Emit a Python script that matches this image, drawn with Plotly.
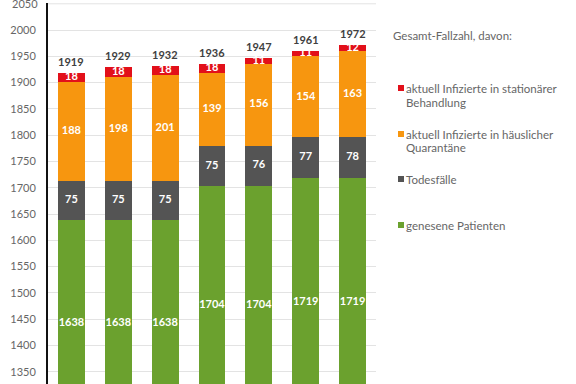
import plotly.graph_objects as go

categories = ["A", "B", "C", "D", "E", "F", "G"]
genesen = [1638, 1638, 1638, 1704, 1704, 1719, 1719]
tote = [75, 75, 75, 75, 76, 77, 78]
quarantaene = [188, 198, 201, 139, 156, 154, 163]
stationaer = [18, 18, 18, 18, 11, 11, 12]
gesamt = [1919, 1929, 1932, 1936, 1947, 1961, 1972]
y_ticks = [1350, 1400, 1450, 1500, 1550, 1600, 1650, 1700, 1750, 1800, 1850, 1900, 1950, 2000, 2050]

series_names = [
    "genesene Patienten",
    "Todesfälle",
    "aktuell Infizierte in häuslicher Quarantäne",
    "aktuell Infizierte in stationärer Behandlung",
]
colors = ["#6BA12E", "#545454", "#F7960F", "#E2101A"]

Y_MIN, Y_MAX = 1326.6, 2051.5
AXIS_ORIGIN = 1247  # original (cropped) axis start used for label centring

W, H = 576, 384
ML, MR, MT, MB = 48, 200, 3, 0
PW = W - ML - MR
PH = H - MT - MB

FONT = "Lato"
TICK_FONT = dict(family=FONT, size=11, color="#666666")
GRID = "#E3E3E3"

fig = go.Figure()
series = [genesen, tote, quarantaene, stationaer]
for vals, name, col in zip(series, series_names, colors):
    fig.add_trace(go.Bar(x=categories, y=vals, name=name, marker=dict(color=col, line=dict(width=0)),
                         showlegend=False))

# segment labels
lab_x, lab_y, lab_t = [], [], []
base = [0] * len(categories)
for k, vals in enumerate(series):
    for i, v in enumerate(vals):
        lo = base[i]
        hi = base[i] + v
        if k == 0:
            mid = (AXIS_ORIGIN + hi) / 2
        else:
            mid = (lo + hi) / 2
        lab_x.append(categories[i]); lab_y.append(mid); lab_t.append(str(v))
        base[i] = hi
fig.add_trace(go.Scatter(x=lab_x, y=lab_y, text=lab_t, mode="text", showlegend=False,
                         textfont=dict(family=FONT, size=11, color="white", weight="bold"),
                         textposition="middle center", hoverinfo="skip"))

annotations = []
shapes = []
# totals
for c, v in zip(categories, gesamt):
    annotations.append(dict(x=c, y=v, xref="x", yref="y", text=str(v), showarrow=False,
                            yanchor="bottom", yshift=3,
                            font=dict(family=FONT, size=11, color="#404040", weight="bold")))

# top tick (plotly drops the label right at the plot edge)
top_tick = y_ticks[-1]
annotations.append(dict(x=0, y=top_tick, xref="paper", yref="y", xanchor="right", yanchor="middle",
                        xshift=-8, text=str(top_tick), showarrow=False, font=TICK_FONT))
shapes.append(dict(type="line", xref="paper", yref="y", x0=0, x1=1, y0=top_tick, y1=top_tick,
                   line=dict(color=GRID, width=1), layer="below"))

def px(xp):
    return (xp - ML) / PW

def py(yp):
    return (H - MB - yp) / PH

annotations.append(dict(x=px(391), y=py(35), xref="paper", yref="paper", xanchor="left", yanchor="middle",
                        text="Gesamt-Fallzahl, davon:", showarrow=False,
                        font=dict(family=FONT, size=11.5, color="#666666")))
legend_items = [
    (3, ["aktuell Infizierte in stationärer", "Behandlung"], 88),
    (2, ["aktuell Infizierte in häuslicher", "Quarantäne"], 134),
    (1, ["Todesfälle"], 179),
    (0, ["genesene Patienten"], 225),
]
for idx, lines, ycen in legend_items:
    shapes.append(dict(type="rect", xref="paper", yref="paper",
                       x0=px(398), x1=px(404), y0=py(ycen + 3), y1=py(ycen - 3),
                       fillcolor=colors[idx], line=dict(width=0)))
    for j, ln in enumerate(lines):
        annotations.append(dict(x=px(404), y=py(ycen + j * 14), xref="paper", yref="paper",
                                xanchor="left", yanchor="middle", text=ln, showarrow=False,
                                font=dict(family=FONT, size=11.5, color="#666666")))

fig.update_layout(
    width=W, height=H,
    margin=dict(l=ML, r=MR, t=MT, b=MB),
    barmode="stack", bargap=0.426,
    plot_bgcolor="white", paper_bgcolor="white",
    font=dict(family=FONT),
    xaxis=dict(showticklabels=False, showgrid=False, zeroline=False, showline=False, ticks=""),
    yaxis=dict(range=[Y_MIN, Y_MAX], tickmode="array", tickvals=y_ticks[:-1],
               ticktext=[str(t) for t in y_ticks[:-1]], showgrid=True, gridcolor=GRID,
               gridwidth=1, zeroline=False, showline=True, linecolor="#111111", linewidth=2,
               ticks="", tickfont=TICK_FONT, ticklabelstandoff=8),
    annotations=annotations,
    shapes=shapes,
)

fig.write_html("out.html", post_script="document.body.style.margin='0px';",
               config={"displayModeBar": False})
